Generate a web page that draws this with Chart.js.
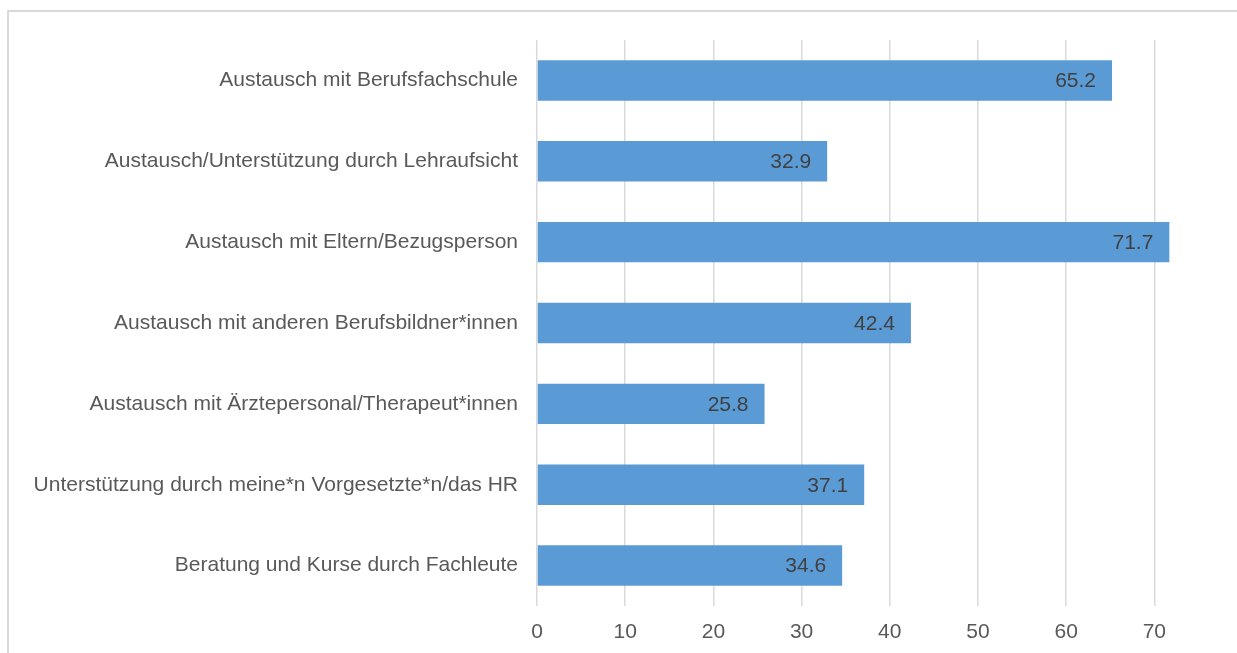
<!DOCTYPE html>
<html>
<head>
<meta charset="utf-8">
<script src="https://cdn.jsdelivr.net/npm/chart.js@4/dist/chart.umd.min.js"></script>
<style>
  html, body { margin: 0; padding: 0; background: #fff; }
  #wrap { position: relative; width: 1237px; height: 653px; }
  #rahmen {
    position: absolute; left: 7px; top: 10px; width: 1240px; height: 660px;
    border-top: 2px solid #d9d9d9; border-left: 2px solid #d9d9d9;
    box-sizing: border-box;
  }
  canvas { position: absolute; left: 0; top: 0; }
</style>
</head>
<body>
<div id="wrap">
  <div id="rahmen"></div>
  <canvas id="grafico" width="1237" height="653"></canvas>
</div>
<script>
// Kategorien und Werte (Prozent)
const kategorien = [
  "Austausch mit Berufsfachschule",
  "Austausch/Unterstützung durch Lehraufsicht",
  "Austausch mit Eltern/Bezugsperson",
  "Austausch mit anderen Berufsbildner*innen",
  "Austausch mit Ärztepersonal/Therapeut*innen",
  "Unterstützung durch meine*n Vorgesetzte*n/das HR",
  "Beratung und Kurse durch Fachleute"
];
const werte = [65.2, 32.9, 71.7, 42.4, 25.8, 37.1, 34.6];
const achsenTicks = [0, 10, 20, 30, 40, 50, 60, 70];

const schrift = "'Liberation Sans', Arial, sans-serif";

// Werte innen am Balkenende schreiben
const wertBeschriftung = {
  id: "wertBeschriftung",
  afterDatasetsDraw(chart) {
    const ctx = chart.ctx;
    const meta = chart.getDatasetMeta(0);
    ctx.save();
    ctx.font = "21px " + schrift;
    ctx.fillStyle = "#404040";
    ctx.textAlign = "right";
    ctx.textBaseline = "middle";
    meta.data.forEach(function (bar, i) {
      ctx.fillText(werte[i].toFixed(1), bar.x - 16, bar.y + 1);
    });
    ctx.restore();
  }
};

new Chart(document.getElementById("grafico"), {
  type: "bar",
  data: {
    labels: kategorien,
    datasets: [
      {
        data: werte,
        backgroundColor: "#5b9bd5",
        borderWidth: 0,
        barPercentage: 0.5,
        categoryPercentage: 1.0,
      },
    ],
  },
  options: {
    indexAxis: "y",
    responsive: false,
    animation: false,
    layout: { padding: { top: 40, right: 65, bottom: 8, left: 0 } },
    plugins: {
      legend: { display: false },
      tooltip: { enabled: false },
    },
    scales: {
      x: {
        min: 0,
        max: 72,
        afterBuildTicks: function (scale) {
          scale.ticks = achsenTicks.map(function (v) { return { value: v }; });
        },
        afterFit: function (scale) { scale.height = 39; },
        grid: { color: "#d9d9d9", lineWidth: 1.5, drawTicks: false },
        border: { display: false },
        ticks: {
          padding: 14,
          color: "#595959",
          font: { family: schrift, size: 21 },
        },
      },
      y: {
        afterFit: function (scale) { scale.width = 537; },
        grid: { display: false, drawTicks: false },
        border: { display: false },
        ticks: {
          padding: 19,
          color: "#595959",
          font: { family: schrift, size: 21 },
        },
      },
    },
  },
  plugins: [wertBeschriftung],
});
</script>
</body>
</html>
